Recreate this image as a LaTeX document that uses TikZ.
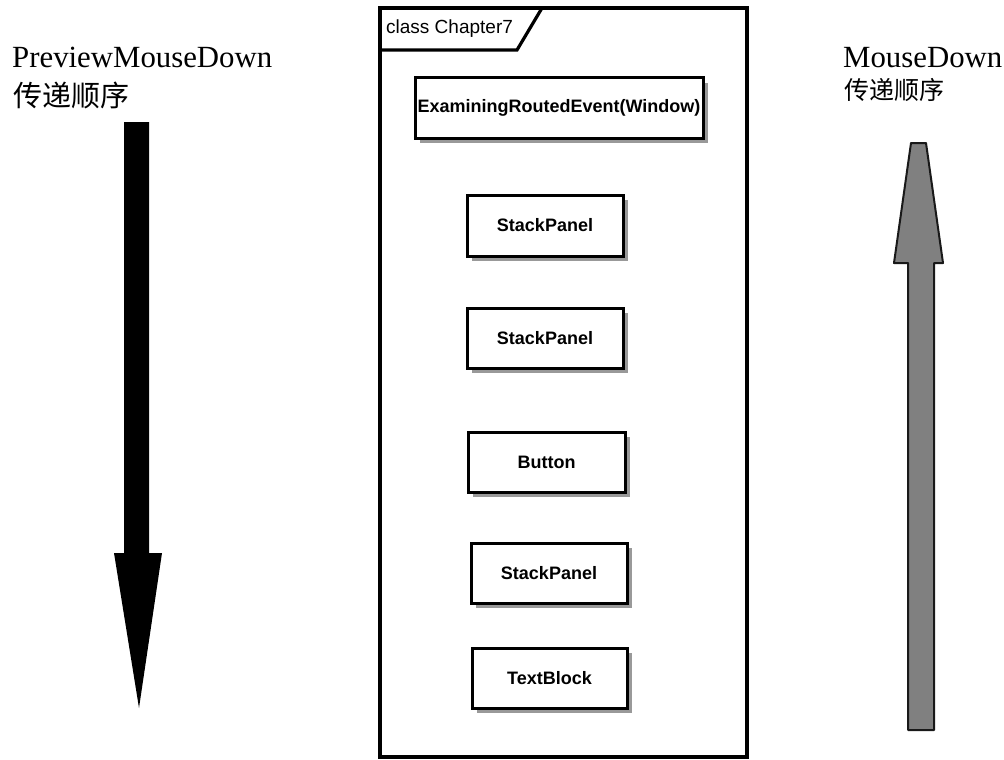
\documentclass[tikz,border=0pt]{standalone}
\usepackage{fontspec}
\setmainfont{Liberation Serif}
\newfontfamily\cjk{Noto Sans CJK SC}
\newfontfamily\umlfont{Liberation Sans}
\usetikzlibrary{shadows}
\begin{document}
\begin{tikzpicture}[x=1pt,y=-1pt,
  classbox/.style={draw=black, line width=3pt, fill=white, inner sep=0pt,
    font=\umlfont\bfseries\fontsize{18}{20}\selectfont,
    drop shadow={shadow xshift=5pt, shadow yshift=-5pt, fill=black!50, opacity=0.8}},
  label/.style={anchor=base west, inner sep=0pt, font=\fontsize{30.8}{34}\selectfont},
  cjklabel/.style={anchor=west, inner sep=0pt}]
\useasboundingbox (0,0) rectangle (1004,760);
\fill[white] (0,0) rectangle (1004,760);

% left: tunnelling order
\node[label] (prevtitle) at (12,67) {PreviewMouseDown};
\node[cjklabel, font=\cjk\fontsize{29}{32}\selectfont] (prevorder) at (13,95) {传递顺序};
\fill[black] (124,122) -- (149,122) -- (149,553) -- (162,553) -- (139,708)
  -- (114,553) -- (124,553) -- cycle;

% right: bubbling order
\node[label] (bubtitle) at (843,68) {MouseDown};
\node[cjklabel, font=\cjk\fontsize{25}{28}\selectfont] (bubrorder) at (844,90) {传递顺序};
\filldraw[fill=black!50, draw=black!90, line width=2pt, line join=round]
  (908,730) -- (934,730) -- (934,263) -- (943,263) -- (926,143) -- (911,143)
  -- (894,263) -- (908,263) -- cycle;

% class frame with its name tab
\draw[line width=3.2pt] (380,8) rectangle (747,757);
\draw[line width=3.2pt] (542,8) -- (517,50) -- (380,50);
\node[anchor=west, inner sep=0pt, font=\umlfont\fontsize{19}{21}\selectfont] (frametitle) at (386,29) {class Chapter7};

% element tree, outermost first
\node[classbox, minimum width=288pt, minimum height=60pt] (win) at (559,108) {ExaminingRoutedEvent(Window)};
\node[classbox, minimum width=156pt, minimum height=61pt] (sp1) at (545,225.5) {StackPanel};
\node[classbox, minimum width=156pt, minimum height=60pt] (sp2) at (545,338) {StackPanel};
\node[classbox, minimum width=157pt, minimum height=60pt] (btn) at (546.5,462) {Button};
\node[classbox, minimum width=156pt, minimum height=60pt] (sp3) at (549,573) {StackPanel};
\node[classbox, minimum width=155pt, minimum height=60pt] (tb) at (549.5,678) {TextBlock};
\end{tikzpicture}
\end{document}
